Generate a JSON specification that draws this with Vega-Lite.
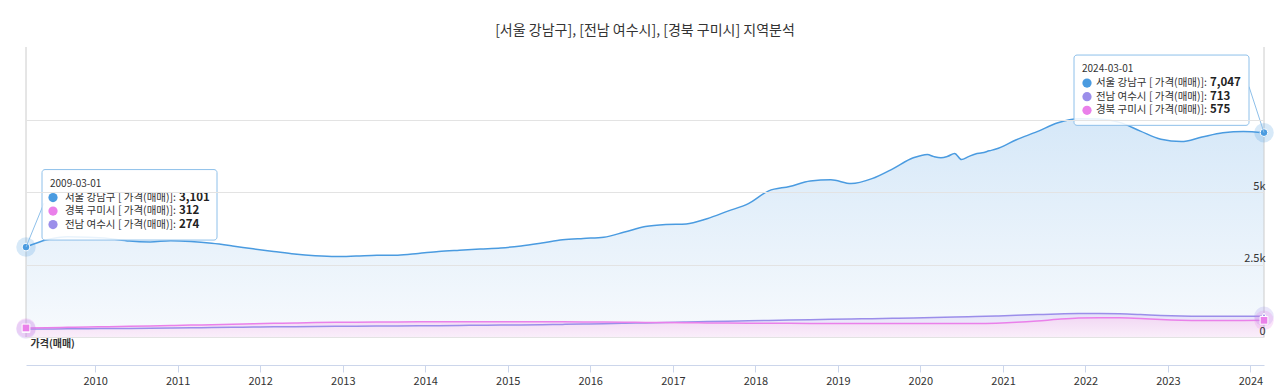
{
  "$schema": "https://vega.github.io/schema/vega-lite/v6.json",
  "width": 1238,
  "height": 290,
  "autosize": {"type": "none"},
  "padding": {"left": 26, "top": 47, "right": 16, "bottom": 55},
  "background": "#ffffff",
  "title": {"text": "[서울 강남구], [전남 여수시], [경북 구미시] 지역분석", "fontSize": 14, "fontWeight": "normal", "color": "#333333", "font": "Noto Sans CJK KR", "offset": 9, "anchor": "middle"},
  "config": {
    "font": "Noto Sans CJK KR",
    "view": {"stroke": null},
    "axis": {"labelFont": "Noto Sans CJK KR", "titleFont": "Noto Sans CJK KR"}
  },
  "data": {"values": [
    {"date": "2009-03-01", "series": "서울 강남구", "value": 3101},
    {"date": "2009-06-01", "series": "서울 강남구", "value": 3350},
    {"date": "2009-09-01", "series": "서울 강남구", "value": 3455},
    {"date": "2009-12-01", "series": "서울 강남구", "value": 3440},
    {"date": "2010-03-01", "series": "서울 강남구", "value": 3400},
    {"date": "2010-06-01", "series": "서울 강남구", "value": 3310},
    {"date": "2010-09-01", "series": "서울 강남구", "value": 3280},
    {"date": "2010-12-01", "series": "서울 강남구", "value": 3315},
    {"date": "2011-03-01", "series": "서울 강남구", "value": 3290},
    {"date": "2011-06-01", "series": "서울 강남구", "value": 3230},
    {"date": "2011-09-01", "series": "서울 강남구", "value": 3140},
    {"date": "2011-12-01", "series": "서울 강남구", "value": 3040},
    {"date": "2012-03-01", "series": "서울 강남구", "value": 2950},
    {"date": "2012-06-01", "series": "서울 강남구", "value": 2860},
    {"date": "2012-09-01", "series": "서울 강남구", "value": 2800},
    {"date": "2012-12-01", "series": "서울 강남구", "value": 2772},
    {"date": "2013-03-01", "series": "서울 강남구", "value": 2790},
    {"date": "2013-06-01", "series": "서울 강남구", "value": 2815},
    {"date": "2013-09-01", "series": "서울 강남구", "value": 2820},
    {"date": "2013-12-01", "series": "서울 강남구", "value": 2880},
    {"date": "2014-03-01", "series": "서울 강남구", "value": 2950},
    {"date": "2014-06-01", "series": "서울 강남구", "value": 2995},
    {"date": "2014-09-01", "series": "서울 강남구", "value": 3035},
    {"date": "2014-12-01", "series": "서울 강남구", "value": 3070},
    {"date": "2015-03-01", "series": "서울 강남구", "value": 3140},
    {"date": "2015-06-01", "series": "서울 강남구", "value": 3240},
    {"date": "2015-09-01", "series": "서울 강남구", "value": 3350},
    {"date": "2015-12-01", "series": "서울 강남구", "value": 3400},
    {"date": "2016-03-01", "series": "서울 강남구", "value": 3440},
    {"date": "2016-06-01", "series": "서울 강남구", "value": 3620},
    {"date": "2016-09-01", "series": "서울 강남구", "value": 3810},
    {"date": "2016-12-01", "series": "서울 강남구", "value": 3880},
    {"date": "2017-03-01", "series": "서울 강남구", "value": 3900},
    {"date": "2017-06-01", "series": "서울 강남구", "value": 4080},
    {"date": "2017-09-01", "series": "서울 강남구", "value": 4340},
    {"date": "2017-12-01", "series": "서울 강남구", "value": 4600},
    {"date": "2018-03-01", "series": "서울 강남구", "value": 5040},
    {"date": "2018-06-01", "series": "서울 강남구", "value": 5190},
    {"date": "2018-09-01", "series": "서울 강남구", "value": 5380},
    {"date": "2018-12-01", "series": "서울 강남구", "value": 5420},
    {"date": "2019-03-01", "series": "서울 강남구", "value": 5290},
    {"date": "2019-06-01", "series": "서울 강남구", "value": 5460},
    {"date": "2019-09-01", "series": "서울 강남구", "value": 5800},
    {"date": "2019-12-01", "series": "서울 강남구", "value": 6180},
    {"date": "2020-01-01", "series": "서울 강남구", "value": 6250},
    {"date": "2020-02-01", "series": "서울 강남구", "value": 6290},
    {"date": "2020-03-01", "series": "서울 강남구", "value": 6220},
    {"date": "2020-04-01", "series": "서울 강남구", "value": 6180},
    {"date": "2020-05-01", "series": "서울 강남구", "value": 6230},
    {"date": "2020-06-01", "series": "서울 강남구", "value": 6330},
    {"date": "2020-07-01", "series": "서울 강남구", "value": 6120},
    {"date": "2020-08-01", "series": "서울 강남구", "value": 6220},
    {"date": "2020-09-01", "series": "서울 강남구", "value": 6310},
    {"date": "2020-10-01", "series": "서울 강남구", "value": 6350},
    {"date": "2020-11-01", "series": "서울 강남구", "value": 6420},
    {"date": "2020-12-01", "series": "서울 강남구", "value": 6480},
    {"date": "2021-03-01", "series": "서울 강남구", "value": 6800},
    {"date": "2021-06-01", "series": "서울 강남구", "value": 7080},
    {"date": "2021-09-01", "series": "서울 강남구", "value": 7390},
    {"date": "2021-12-01", "series": "서울 강남구", "value": 7530},
    {"date": "2022-03-01", "series": "서울 강남구", "value": 7515},
    {"date": "2022-06-01", "series": "서울 강남구", "value": 7400},
    {"date": "2022-09-01", "series": "서울 강남구", "value": 7100},
    {"date": "2022-12-01", "series": "서울 강남구", "value": 6820},
    {"date": "2023-03-01", "series": "서울 강남구", "value": 6740},
    {"date": "2023-06-01", "series": "서울 강남구", "value": 6896},
    {"date": "2023-09-01", "series": "서울 강남구", "value": 7040},
    {"date": "2023-12-01", "series": "서울 강남구", "value": 7090},
    {"date": "2024-03-01", "series": "서울 강남구", "value": 7047},
    {"date": "2009-03-01", "series": "전남 여수시", "value": 274},
    {"date": "2009-06-01", "series": "전남 여수시", "value": 278},
    {"date": "2009-09-01", "series": "전남 여수시", "value": 282},
    {"date": "2009-12-01", "series": "전남 여수시", "value": 287},
    {"date": "2010-03-01", "series": "전남 여수시", "value": 292},
    {"date": "2010-06-01", "series": "전남 여수시", "value": 297},
    {"date": "2010-09-01", "series": "전남 여수시", "value": 303},
    {"date": "2010-12-01", "series": "전남 여수시", "value": 310},
    {"date": "2011-03-01", "series": "전남 여수시", "value": 318},
    {"date": "2011-06-01", "series": "전남 여수시", "value": 326},
    {"date": "2011-09-01", "series": "전남 여수시", "value": 334},
    {"date": "2011-12-01", "series": "전남 여수시", "value": 342},
    {"date": "2012-03-01", "series": "전남 여수시", "value": 350},
    {"date": "2012-06-01", "series": "전남 여수시", "value": 356},
    {"date": "2012-09-01", "series": "전남 여수시", "value": 362},
    {"date": "2012-12-01", "series": "전남 여수시", "value": 367},
    {"date": "2013-03-01", "series": "전남 여수시", "value": 372},
    {"date": "2013-06-01", "series": "전남 여수시", "value": 377},
    {"date": "2013-09-01", "series": "전남 여수시", "value": 382},
    {"date": "2013-12-01", "series": "전남 여수시", "value": 387},
    {"date": "2014-03-01", "series": "전남 여수시", "value": 392},
    {"date": "2014-06-01", "series": "전남 여수시", "value": 398},
    {"date": "2014-09-01", "series": "전남 여수시", "value": 404},
    {"date": "2014-12-01", "series": "전남 여수시", "value": 410},
    {"date": "2015-03-01", "series": "전남 여수시", "value": 418},
    {"date": "2015-06-01", "series": "전남 여수시", "value": 426},
    {"date": "2015-09-01", "series": "전남 여수시", "value": 435},
    {"date": "2015-12-01", "series": "전남 여수시", "value": 445},
    {"date": "2016-03-01", "series": "전남 여수시", "value": 458},
    {"date": "2016-06-01", "series": "전남 여수시", "value": 472},
    {"date": "2016-09-01", "series": "전남 여수시", "value": 487},
    {"date": "2016-12-01", "series": "전남 여수시", "value": 502},
    {"date": "2017-03-01", "series": "전남 여수시", "value": 517},
    {"date": "2017-06-01", "series": "전남 여수시", "value": 532},
    {"date": "2017-09-01", "series": "전남 여수시", "value": 547},
    {"date": "2017-12-01", "series": "전남 여수시", "value": 560},
    {"date": "2018-03-01", "series": "전남 여수시", "value": 572},
    {"date": "2018-06-01", "series": "전남 여수시", "value": 584},
    {"date": "2018-09-01", "series": "전남 여수시", "value": 596},
    {"date": "2018-12-01", "series": "전남 여수시", "value": 608},
    {"date": "2019-03-01", "series": "전남 여수시", "value": 620},
    {"date": "2019-06-01", "series": "전남 여수시", "value": 632},
    {"date": "2019-09-01", "series": "전남 여수시", "value": 645},
    {"date": "2019-12-01", "series": "전남 여수시", "value": 658},
    {"date": "2020-03-01", "series": "전남 여수시", "value": 672},
    {"date": "2020-06-01", "series": "전남 여수시", "value": 688},
    {"date": "2020-09-01", "series": "전남 여수시", "value": 705},
    {"date": "2020-12-01", "series": "전남 여수시", "value": 725},
    {"date": "2021-03-01", "series": "전남 여수시", "value": 748},
    {"date": "2021-06-01", "series": "전남 여수시", "value": 772},
    {"date": "2021-09-01", "series": "전남 여수시", "value": 795},
    {"date": "2021-12-01", "series": "전남 여수시", "value": 808},
    {"date": "2022-03-01", "series": "전남 여수시", "value": 810},
    {"date": "2022-06-01", "series": "전남 여수시", "value": 800},
    {"date": "2022-09-01", "series": "전남 여수시", "value": 775},
    {"date": "2022-12-01", "series": "전남 여수시", "value": 745},
    {"date": "2023-03-01", "series": "전남 여수시", "value": 725},
    {"date": "2023-06-01", "series": "전남 여수시", "value": 716},
    {"date": "2023-09-01", "series": "전남 여수시", "value": 712},
    {"date": "2023-12-01", "series": "전남 여수시", "value": 712},
    {"date": "2024-03-01", "series": "전남 여수시", "value": 713},
    {"date": "2009-03-01", "series": "경북 구미시", "value": 312},
    {"date": "2009-06-01", "series": "경북 구미시", "value": 322},
    {"date": "2009-09-01", "series": "경북 구미시", "value": 333},
    {"date": "2009-12-01", "series": "경북 구미시", "value": 344},
    {"date": "2010-03-01", "series": "경북 구미시", "value": 356},
    {"date": "2010-06-01", "series": "경북 구미시", "value": 368},
    {"date": "2010-09-01", "series": "경북 구미시", "value": 381},
    {"date": "2010-12-01", "series": "경북 구미시", "value": 395},
    {"date": "2011-03-01", "series": "경북 구미시", "value": 410},
    {"date": "2011-06-01", "series": "경북 구미시", "value": 425},
    {"date": "2011-09-01", "series": "경북 구미시", "value": 441},
    {"date": "2011-12-01", "series": "경북 구미시", "value": 457},
    {"date": "2012-03-01", "series": "경북 구미시", "value": 472},
    {"date": "2012-06-01", "series": "경북 구미시", "value": 485},
    {"date": "2012-09-01", "series": "경북 구미시", "value": 496},
    {"date": "2012-12-01", "series": "경북 구미시", "value": 505},
    {"date": "2013-03-01", "series": "경북 구미시", "value": 512},
    {"date": "2013-06-01", "series": "경북 구미시", "value": 517},
    {"date": "2013-09-01", "series": "경북 구미시", "value": 521},
    {"date": "2013-12-01", "series": "경북 구미시", "value": 524},
    {"date": "2014-03-01", "series": "경북 구미시", "value": 527},
    {"date": "2014-06-01", "series": "경북 구미시", "value": 529},
    {"date": "2014-09-01", "series": "경북 구미시", "value": 530},
    {"date": "2014-12-01", "series": "경북 구미시", "value": 530},
    {"date": "2015-03-01", "series": "경북 구미시", "value": 529},
    {"date": "2015-06-01", "series": "경북 구미시", "value": 527},
    {"date": "2015-09-01", "series": "경북 구미시", "value": 524},
    {"date": "2015-12-01", "series": "경북 구미시", "value": 520},
    {"date": "2016-03-01", "series": "경북 구미시", "value": 515},
    {"date": "2016-06-01", "series": "경북 구미시", "value": 509},
    {"date": "2016-09-01", "series": "경북 구미시", "value": 503},
    {"date": "2016-12-01", "series": "경북 구미시", "value": 497},
    {"date": "2017-03-01", "series": "경북 구미시", "value": 491},
    {"date": "2017-06-01", "series": "경북 구미시", "value": 486},
    {"date": "2017-09-01", "series": "경북 구미시", "value": 481},
    {"date": "2017-12-01", "series": "경북 구미시", "value": 477},
    {"date": "2018-03-01", "series": "경북 구미시", "value": 474},
    {"date": "2018-06-01", "series": "경북 구미시", "value": 471},
    {"date": "2018-09-01", "series": "경북 구미시", "value": 469},
    {"date": "2018-12-01", "series": "경북 구미시", "value": 467},
    {"date": "2019-03-01", "series": "경북 구미시", "value": 466},
    {"date": "2019-06-01", "series": "경북 구미시", "value": 465},
    {"date": "2019-09-01", "series": "경북 구미시", "value": 464},
    {"date": "2019-12-01", "series": "경북 구미시", "value": 463},
    {"date": "2020-03-01", "series": "경북 구미시", "value": 462},
    {"date": "2020-06-01", "series": "경북 구미시", "value": 462},
    {"date": "2020-09-01", "series": "경북 구미시", "value": 465},
    {"date": "2020-12-01", "series": "경북 구미시", "value": 478},
    {"date": "2021-03-01", "series": "경북 구미시", "value": 505},
    {"date": "2021-06-01", "series": "경북 구미시", "value": 550},
    {"date": "2021-09-01", "series": "경북 구미시", "value": 610},
    {"date": "2021-12-01", "series": "경북 구미시", "value": 655},
    {"date": "2022-03-01", "series": "경북 구미시", "value": 668},
    {"date": "2022-06-01", "series": "경북 구미시", "value": 660},
    {"date": "2022-09-01", "series": "경북 구미시", "value": 635},
    {"date": "2022-12-01", "series": "경북 구미시", "value": 600},
    {"date": "2023-03-01", "series": "경북 구미시", "value": 578},
    {"date": "2023-06-01", "series": "경북 구미시", "value": 570},
    {"date": "2023-09-01", "series": "경북 구미시", "value": 570},
    {"date": "2023-12-01", "series": "경북 구미시", "value": 573},
    {"date": "2024-03-01", "series": "경북 구미시", "value": 575}
  ]},
  "layer": [
    {
      "transform": [{"filter": "datum.series == '서울 강남구'"}],
      "mark": {"type": "area", "interpolate": "monotone", "color": {"gradient": "linear", "x1": 0, "y1": 0, "x2": 0, "y2": 1, "stops": [{"offset": 0, "color": "#d6e8f8"}, {"offset": 1, "color": "#f7fafd"}]}},
      "encoding": {
        "x": {"field": "date", "type": "temporal", "scale": {"type": "utc", "domain": [{"year": 2009, "month": 3, "date": 1, "utc": true}, {"year": 2024, "month": 3, "date": 1, "utc": true}]},
          "axis": {"title": null, "format": "%Y", "tickCount": {"interval": "year", "step": 1}, "offset": 28, "grid": false, "domainColor": "#ccd6eb", "tickColor": "#ccd6eb", "tickSize": 7, "labelPadding": 3, "labelFontSize": 11, "labelColor": "#333333", "labelFlush": false}},
        "y": {"field": "value", "type": "quantitative", "scale": {"domain": [0, 10000], "nice": false},
          "axis": {"orient": "right", "zindex": 1, "values": [0, 2500, 5000, 7500], "labelExpr": "datum.value == 7500 ? '' : format(datum.value, '~s')", "domain": false, "ticks": false, "tickSize": 0, "grid": true, "gridColor": "#e3e3e3", "labelAlign": "right", "labelBaseline": "bottom", "labelPadding": 1, "labelOffset": -1, "labelFontSize": 11, "labelColor": "#333333", "labelFlush": false,
            "title": "가격(매매)", "titleAngle": 0, "titleAlign": "left", "titleBaseline": "top", "titleX": -1234, "titleY": 291, "titleFontSize": 10, "titleFontWeight": "bold", "titleColor": "#333333"}}
      }
    },
    {
      "transform": [{"filter": "datum.series == '전남 여수시'"}],
      "mark": {"type": "area", "interpolate": "monotone", "color": {"gradient": "linear", "x1": 0, "y1": 0, "x2": 0, "y2": 1, "stops": [{"offset": 0, "color": "#e6e2f9"}, {"offset": 1, "color": "#f4f1fc"}]}},
      "encoding": {"x": {"field": "date", "type": "temporal"}, "y": {"field": "value", "type": "quantitative"}}
    },
    {
      "transform": [{"filter": "datum.series == '경북 구미시'"}],
      "mark": {"type": "area", "interpolate": "monotone", "color": {"gradient": "linear", "x1": 0, "y1": 0, "x2": 0, "y2": 1, "stops": [{"offset": 0, "color": "#f2d9f4"}, {"offset": 1, "color": "#faeefa"}]}},
      "encoding": {"x": {"field": "date", "type": "temporal"}, "y": {"field": "value", "type": "quantitative"}}
    },
    {
      "transform": [{"filter": "datum.series == '서울 강남구' && ((utcyear(datum.date) == 2009 && utcmonth(datum.date) == 2) || utcyear(datum.date) == 2024)"}],
      "mark": {"type": "rule", "color": "#cccccc", "strokeWidth": 1},
      "encoding": {"x": {"field": "date", "type": "temporal"}}
    },
    {
      "mark": {"type": "line", "interpolate": "monotone", "strokeWidth": 1.5},
      "encoding": {
        "x": {"field": "date", "type": "temporal"},
        "y": {"field": "value", "type": "quantitative"},
        "color": {"field": "series", "type": "nominal", "scale": {"domain": ["서울 강남구", "전남 여수시", "경북 구미시"], "range": ["#4a9be0", "#9b8eea", "#ea80ea"]}, "legend": null}
      }
    },
    {
      "transform": [{"filter": "(utcyear(datum.date) == 2009 && utcmonth(datum.date) == 2) || utcyear(datum.date) == 2024"}],
      "mark": {"type": "point", "filled": true, "shape": "circle", "size": 380, "opacity": 0.22},
      "encoding": {
        "x": {"field": "date", "type": "temporal"},
        "y": {"field": "value", "type": "quantitative"},
        "color": {"field": "series", "type": "nominal"}
      }
    },
    {
      "transform": [{"filter": "(utcyear(datum.date) == 2009 && utcmonth(datum.date) == 2) || utcyear(datum.date) == 2024"}],
      "mark": {"type": "point", "filled": true, "size": 60, "opacity": 1, "stroke": "#ffffff", "strokeWidth": 1},
      "encoding": {
        "x": {"field": "date", "type": "temporal"},
        "y": {"field": "value", "type": "quantitative"},
        "color": {"field": "series", "type": "nominal"},
        "shape": {"field": "series", "type": "nominal", "scale": {"domain": ["서울 강남구", "전남 여수시", "경북 구미시"], "range": ["circle", "triangle-up", "square"]}, "legend": null}
      }
    },
    {
      "transform": [
        {"filter": "utcyear(datum.date) == 2009 && utcmonth(datum.date) == 2"},
        {"joinaggregate": [{"op": "max", "field": "value", "as": "anchor"}]},
        {"window": [{"op": "row_number", "as": "line"}], "sort": [{"field": "value", "order": "descending"}]},
        {"calculate": "datum.series + ' [ 가격(매매)]:'", "as": "label"},
        {"calculate": "utcFormat(datum.date, '%Y-%m-%d')", "as": "day"}
      ],
      "encoding": {"x": {"field": "date", "type": "temporal"}, "y": {"field": "anchor", "type": "quantitative"}},
      "layer": [
        {
          "transform": [{"filter": "datum.line == 1"}],
          "mark": {"type": "rule", "stroke": "#8ec0ea", "strokeWidth": 1, "x2Offset": 18, "y2Offset": -44},
          "encoding": {"x2": {"field": "date"}, "y2": {"field": "anchor"}}
        },
        {
          "transform": [{"filter": "datum.line == 1"}],
          "mark": {"type": "rect", "fill": "#ffffff", "fillOpacity": 0.88, "stroke": "#8ec0ea", "strokeWidth": 1, "cornerRadius": 3, "xOffset": 16, "x2Offset": 191, "yOffset": -77.5, "y2Offset": -7},
          "encoding": {"x2": {"field": "date"}, "y2": {"field": "anchor"}}
        },
        {
          "transform": [{"filter": "datum.line == 1"}],
          "mark": {"type": "text", "align": "left", "baseline": "middle", "dx": 24, "dy": -63, "fontSize": 10, "color": "#333333"},
          "encoding": {"text": {"field": "day"}}
        },
        {
          "transform": [{"filter": "datum.line == 1"}],
          "layer": [
            {"mark": {"type": "point", "filled": true, "shape": "circle", "size": 85, "opacity": 1, "xOffset": 27, "yOffset": -49.5}, "encoding": {"color": {"field": "series", "type": "nominal"}}},
            {"mark": {"type": "text", "align": "right", "baseline": "middle", "dx": 150, "dy": -49.5, "fontSize": 10.5, "color": "#333333"}, "encoding": {"text": {"field": "label"}}},
            {"mark": {"type": "text", "align": "left", "baseline": "middle", "dx": 153, "dy": -49.5, "fontSize": 11.5, "fontWeight": "bold", "color": "#222222"}, "encoding": {"text": {"field": "value", "type": "quantitative", "format": ","}}}
          ]
        },
        {
          "transform": [{"filter": "datum.line == 2"}],
          "layer": [
            {"mark": {"type": "point", "filled": true, "shape": "circle", "size": 85, "opacity": 1, "xOffset": 27, "yOffset": -36}, "encoding": {"color": {"field": "series", "type": "nominal"}}},
            {"mark": {"type": "text", "align": "right", "baseline": "middle", "dx": 150, "dy": -36, "fontSize": 10.5, "color": "#333333"}, "encoding": {"text": {"field": "label"}}},
            {"mark": {"type": "text", "align": "left", "baseline": "middle", "dx": 153, "dy": -36, "fontSize": 11.5, "fontWeight": "bold", "color": "#222222"}, "encoding": {"text": {"field": "value", "type": "quantitative", "format": ","}}}
          ]
        },
        {
          "transform": [{"filter": "datum.line == 3"}],
          "layer": [
            {"mark": {"type": "point", "filled": true, "shape": "circle", "size": 85, "opacity": 1, "xOffset": 27, "yOffset": -22.5}, "encoding": {"color": {"field": "series", "type": "nominal"}}},
            {"mark": {"type": "text", "align": "right", "baseline": "middle", "dx": 150, "dy": -22.5, "fontSize": 10.5, "color": "#333333"}, "encoding": {"text": {"field": "label"}}},
            {"mark": {"type": "text", "align": "left", "baseline": "middle", "dx": 153, "dy": -22.5, "fontSize": 11.5, "fontWeight": "bold", "color": "#222222"}, "encoding": {"text": {"field": "value", "type": "quantitative", "format": ","}}}
          ]
        }
      ]
    },
    {
      "transform": [
        {"filter": "utcyear(datum.date) == 2024"},
        {"joinaggregate": [{"op": "max", "field": "value", "as": "anchor"}]},
        {"window": [{"op": "row_number", "as": "line"}], "sort": [{"field": "value", "order": "descending"}]},
        {"calculate": "datum.series + ' [ 가격(매매)]:'", "as": "label"},
        {"calculate": "utcFormat(datum.date, '%Y-%m-%d')", "as": "day"}
      ],
      "encoding": {"x": {"field": "date", "type": "temporal"}, "y": {"field": "anchor", "type": "quantitative"}},
      "layer": [
        {
          "transform": [{"filter": "datum.line == 1"}],
          "mark": {"type": "rule", "stroke": "#8ec0ea", "strokeWidth": 1, "x2Offset": -15, "y2Offset": -46},
          "encoding": {"x2": {"field": "date"}, "y2": {"field": "anchor"}}
        },
        {
          "transform": [{"filter": "datum.line == 1"}],
          "mark": {"type": "rect", "fill": "#ffffff", "fillOpacity": 0.88, "stroke": "#8ec0ea", "strokeWidth": 1, "cornerRadius": 3, "xOffset": -190, "x2Offset": -15, "yOffset": -77.6, "y2Offset": -7.3},
          "encoding": {"x2": {"field": "date"}, "y2": {"field": "anchor"}}
        },
        {
          "transform": [{"filter": "datum.line == 1"}],
          "mark": {"type": "text", "align": "left", "baseline": "middle", "dx": -182, "dy": -64, "fontSize": 10, "color": "#333333"},
          "encoding": {"text": {"field": "day"}}
        },
        {
          "transform": [{"filter": "datum.line == 1"}],
          "layer": [
            {"mark": {"type": "point", "filled": true, "shape": "circle", "size": 85, "opacity": 1, "xOffset": -177, "yOffset": -49.6}, "encoding": {"color": {"field": "series", "type": "nominal"}}},
            {"mark": {"type": "text", "align": "right", "baseline": "middle", "dx": -57, "dy": -49.6, "fontSize": 10.5, "color": "#333333"}, "encoding": {"text": {"field": "label"}}},
            {"mark": {"type": "text", "align": "left", "baseline": "middle", "dx": -54, "dy": -49.6, "fontSize": 11.5, "fontWeight": "bold", "color": "#222222"}, "encoding": {"text": {"field": "value", "type": "quantitative", "format": ","}}}
          ]
        },
        {
          "transform": [{"filter": "datum.line == 2"}],
          "layer": [
            {"mark": {"type": "point", "filled": true, "shape": "circle", "size": 85, "opacity": 1, "xOffset": -177, "yOffset": -36}, "encoding": {"color": {"field": "series", "type": "nominal"}}},
            {"mark": {"type": "text", "align": "right", "baseline": "middle", "dx": -57, "dy": -36, "fontSize": 10.5, "color": "#333333"}, "encoding": {"text": {"field": "label"}}},
            {"mark": {"type": "text", "align": "left", "baseline": "middle", "dx": -54, "dy": -36, "fontSize": 11.5, "fontWeight": "bold", "color": "#222222"}, "encoding": {"text": {"field": "value", "type": "quantitative", "format": ","}}}
          ]
        },
        {
          "transform": [{"filter": "datum.line == 3"}],
          "layer": [
            {"mark": {"type": "point", "filled": true, "shape": "circle", "size": 85, "opacity": 1, "xOffset": -177, "yOffset": -22.3}, "encoding": {"color": {"field": "series", "type": "nominal"}}},
            {"mark": {"type": "text", "align": "right", "baseline": "middle", "dx": -57, "dy": -22.3, "fontSize": 10.5, "color": "#333333"}, "encoding": {"text": {"field": "label"}}},
            {"mark": {"type": "text", "align": "left", "baseline": "middle", "dx": -54, "dy": -22.3, "fontSize": 11.5, "fontWeight": "bold", "color": "#222222"}, "encoding": {"text": {"field": "value", "type": "quantitative", "format": ","}}}
          ]
        }
      ]
    }
  ]
}
